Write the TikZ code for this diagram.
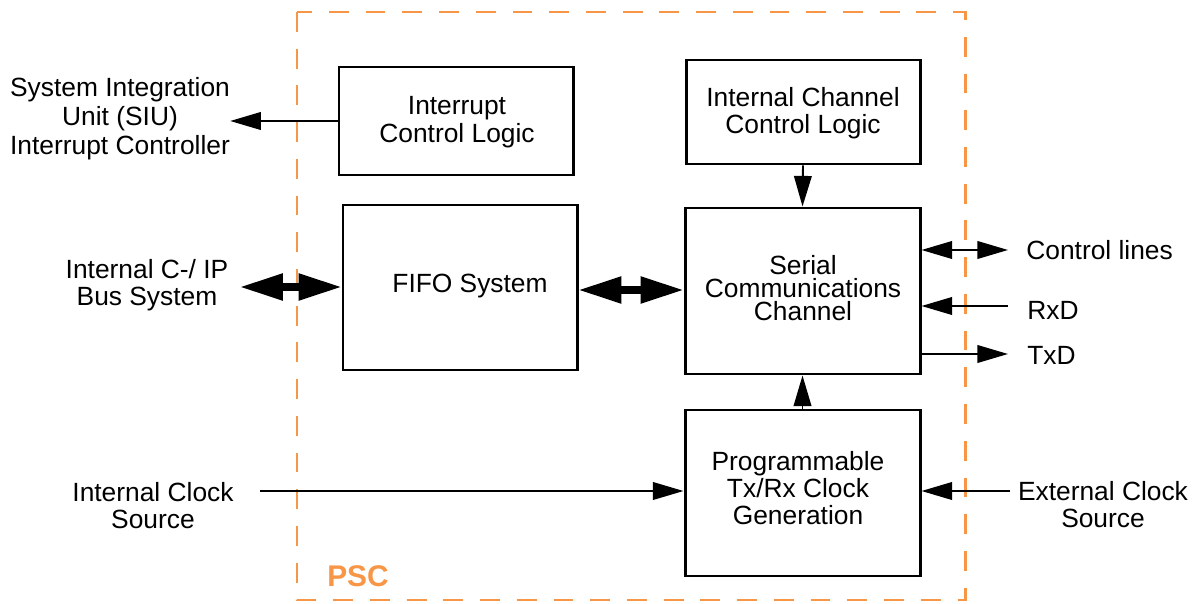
\documentclass[tikz,border=0pt]{standalone}
\usepackage{fontspec}
\setmainfont{Liberation Sans}
\usetikzlibrary{arrows.meta}
\definecolor{pscorange}{RGB}{247,150,70}
\tikzset{
  blk/.style={draw=black, line width=1.7pt, fill=white, inner sep=0pt},
  lbl/.style={align=center, inner sep=0pt, font=\fontsize{15}{15.3}\selectfont},
  thinarrow/.style={line width=1.1pt, -{Triangle[length=17.4pt,width=10pt]}},
  thindouble/.style={line width=1.1pt, {Triangle[length=17.4pt,width=10pt]}-{Triangle[length=17.4pt,width=10pt]}},
  fatdouble/.style={line width=4pt, {Triangle[length=24.4pt,width=14.5pt]}-{Triangle[length=24.4pt,width=14.5pt]}},
  pscframe/.style={draw=pscorange, line width=1.7pt, dash pattern=on 11.3pt off 9.6pt}
}
\begin{document}
\begin{tikzpicture}[x=0.02cm, y=-0.02cm]
\useasboundingbox (0,0) rectangle (1196,604);
% PSC frame
\draw[pscframe] (297,12) rectangle (965,600);
\node[text=pscorange, font=\fontsize{17}{17}\selectfont\bfseries, inner sep=0pt] (psc) at (358,576) {PSC};
% blocks
\node[blk, minimum width=234*0.02cm, minimum height=108*0.02cm] (icl) at (456,121) {};
\node[blk, minimum width=234*0.02cm, minimum height=104*0.02cm] (iccl) at (803,112) {};
\node[blk, minimum width=234*0.02cm, minimum height=165*0.02cm] (fifo) at (460,287.5) {};
\node[blk, minimum width=235*0.02cm, minimum height=166*0.02cm] (scc) at (802.5,291) {};
\node[blk, minimum width=235*0.02cm, minimum height=166*0.02cm] (prog) at (802.5,493) {};
% block texts
\node[lbl, font=\fontsize{15}{15.8}\selectfont] (icltext) at (457,122) {Interrupt\\Control Logic};
\node[lbl] (iccltext) at (803,113) {Internal Channel\\Control Logic};
\node[lbl] (fifotext) at (470,286) {FIFO System};
\node[lbl, font=\fontsize{15}{13.2}\selectfont] (scctext) at (803,288) {Serial\\Communications\\Channel};
\node[lbl] (progtext) at (798,488) {Programmable\\Tx/Rx Clock\\Generation};
% outside labels
\node[lbl, font=\fontsize{15}{16.4}\selectfont] (siu) at (120,119) {System Integration\\Unit (SIU)\\Interrupt Controller};
\node[lbl] (bus) at (147,285) {Internal C-/ IP\\Bus System};
\node[lbl] (intclk) at (153,506) {Internal Clock\\Source};
\node[lbl] (extclk) at (1103,505) {External Clock\\Source};
\node[lbl, anchor=west] (ctl) at (1026,250) {Control lines};
\node[lbl, anchor=west] (rxd) at (1027,310) {RxD};
\node[lbl, anchor=west] (txd) at (1027,355) {TxD};
% free ends
\coordinate (ctlend) at (1008,250);
\coordinate (rxdend) at (1008,306);
\coordinate (txdend) at (1008,354);
\coordinate (busend) at (240,287);
\coordinate (intend) at (260,491);
\coordinate (extend) at (1010,491);
% connectors
\draw[thinarrow] (icl.west) -- (icl.west -| siu.east);
\draw[fatdouble] (busend) -- (busend -| fifo.west);
\draw[fatdouble] (fifo.east |- 0,290) -- (scc.west |- 0,290);
\draw[thinarrow] (iccl.south) -- (scc.north);
\draw[thinarrow] (prog.north) -- (scc.south);
\draw[thindouble] (scc.east |- ctlend) -- (ctlend);
\draw[thinarrow] (rxdend) -- (rxdend -| scc.east);
\draw[thinarrow] (txdend -| scc.east) -- (txdend);
\draw[thinarrow] (intend) -- (intend -| prog.west);
\draw[thinarrow] (extend) -- (extend -| prog.east);
\end{tikzpicture}
\end{document}
